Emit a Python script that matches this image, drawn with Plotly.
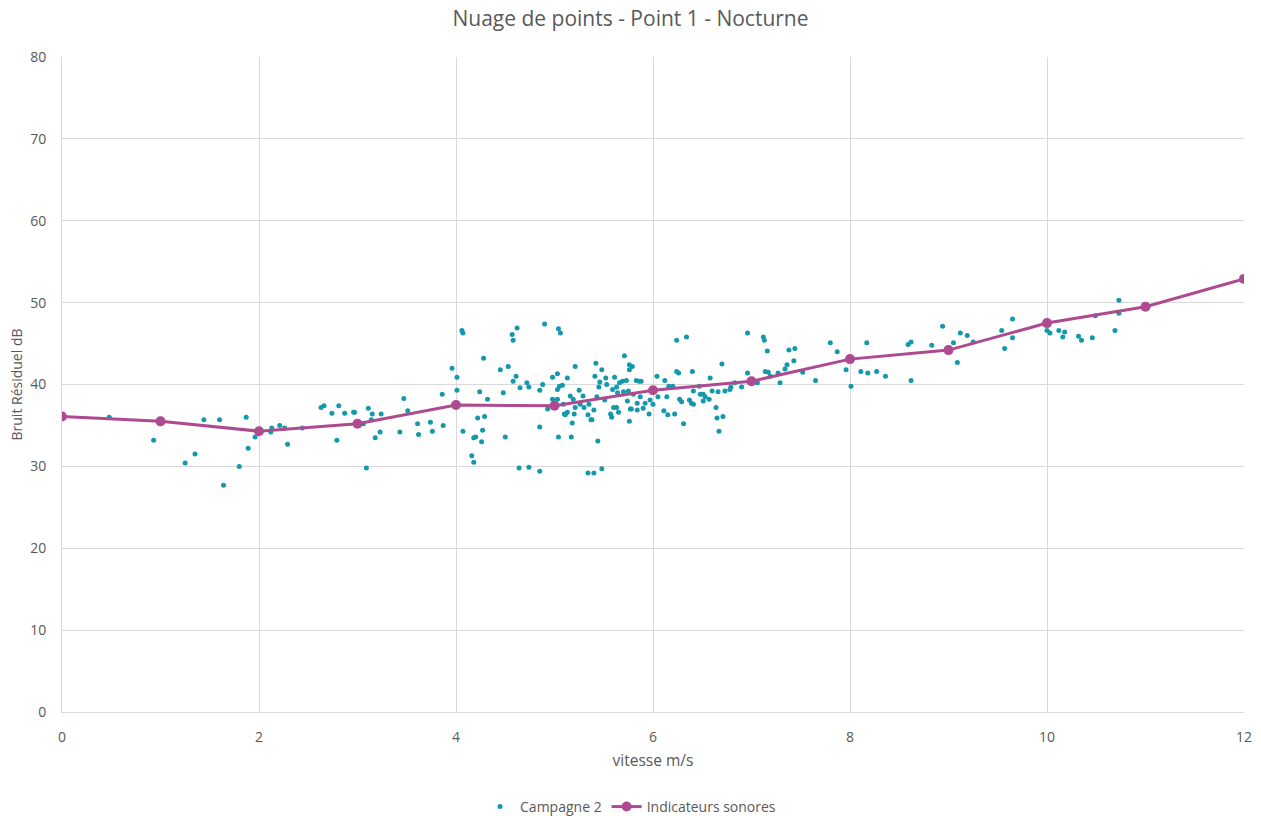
import plotly.graph_objects as go

# Campagne 2 : vitesse du vent (m/s) et bruit résiduel mesuré (dB)
campagne_vitesse = [
    0.48, 0.93, 1.25, 1.35, 1.44, 1.60, 1.87, 1.64, 1.80, 1.89, 1.96,
    2.12, 2.13, 2.21, 2.26, 2.29, 2.44, 2.63, 2.66, 2.74, 2.79, 2.81, 2.87, 2.96, 2.97,
    3.06, 3.09, 3.11, 3.14, 3.15, 3.18, 3.23, 3.24, 3.43, 3.47, 3.51, 3.61, 3.62, 3.74,
    3.76, 3.86, 3.87,
    3.96, 4.01, 4.01, 4.06, 4.07, 4.07, 4.16, 4.18, 4.18, 4.20, 4.22, 4.24, 4.26, 4.27,
    4.28, 4.29, 4.32, 4.45, 4.48, 4.50, 4.53, 4.57, 4.58, 4.58, 4.61, 4.62, 4.64, 4.65,
    4.72, 4.74, 4.74, 4.85, 4.85, 4.88, 4.90,
    5.04, 5.06, 4.85, 4.93, 4.98, 4.98, 5.03, 5.03, 5.05, 5.08, 5.03, 5.09, 5.04, 5.10,
    5.11, 5.13, 5.13, 5.16, 5.17, 5.18, 5.19, 5.20, 5.21, 5.21, 5.25, 5.26, 5.29, 5.30,
    5.34, 5.34, 5.35, 5.37, 5.38, 5.40, 5.40, 5.41, 5.42, 5.43, 5.44, 5.45, 5.46, 5.48,
    5.48, 5.51, 5.52, 5.53, 5.57, 5.58, 5.59, 5.60, 5.61, 5.63, 5.63, 5.64, 5.65, 5.66,
    5.69, 5.70, 5.71, 5.73, 5.74, 5.75, 5.76, 5.76, 5.76, 5.77, 5.78, 5.79, 5.80, 5.83,
    5.84, 5.84, 5.86, 5.87, 5.88, 5.90, 5.92, 5.96, 5.97, 6.04, 6.05,
    6.12, 6.16, 6.20, 6.24, 6.24, 6.26, 6.34, 6.40, 6.00, 6.11, 6.14, 6.15, 6.22, 6.27,
    6.29, 6.31, 6.37, 6.39, 6.41, 6.41, 6.47, 6.48, 6.51, 6.51, 6.53, 6.57, 6.58, 6.60,
    6.64, 6.65, 6.66, 6.67, 6.70, 6.71, 6.73, 6.78, 6.79, 6.83, 6.90, 6.96, 6.96, 7.06,
    7.12, 7.13, 7.14, 7.16, 7.17, 7.27,
    7.19, 7.29, 7.34, 7.36, 7.38, 7.43, 7.44, 7.52, 7.65, 7.80, 7.87, 7.96, 8.01, 8.11,
    8.17, 8.18, 8.27, 8.36, 8.59, 8.62, 8.62, 8.83, 8.94, 9.05, 9.09, 9.12, 9.19, 9.25,
    9.54, 9.57, 9.65, 9.65, 10.00, 10.03, 10.12, 10.16, 10.18, 10.32, 10.35, 10.46,
    10.49, 10.69, 10.73, 10.73,
]
campagne_bruit = [
    36.0, 33.2, 30.4, 31.5, 35.7, 35.7, 36.0, 27.7, 30.0, 32.2, 33.6,
    34.2, 34.7, 35.0, 34.7, 32.7, 34.7, 37.2, 37.4, 36.5, 33.2, 37.4, 36.5, 36.6, 36.6,
    35.2, 29.8, 37.1, 35.7, 36.4, 33.5, 34.2, 36.4, 34.2, 38.3, 36.8, 35.2, 33.9, 35.4,
    34.3, 38.8, 35.0,
    42.0, 40.9, 39.3, 46.6, 46.3, 34.3, 31.3, 30.5, 33.5, 33.6, 35.9, 39.1, 33.0, 34.4,
    43.2, 36.1, 38.2, 41.8, 39.0, 33.6, 42.2, 46.1, 40.4, 45.4, 41.0, 46.9, 29.8, 39.6,
    40.2, 39.7, 29.9, 29.4, 39.3, 40.0, 47.4,
    46.8, 46.3, 34.8, 37.0, 38.2, 40.9, 41.3, 39.4, 39.8, 39.9, 38.2, 37.6, 33.6, 36.4,
    36.3, 36.6, 40.8, 38.6, 33.6, 35.3, 38.2, 36.4, 42.2, 37.2, 39.3, 37.6, 38.6, 37.2,
    29.2, 36.3, 37.6, 35.7, 35.7, 36.9, 29.2, 41.0, 42.6, 38.5, 33.1, 39.7, 40.3, 41.8,
    29.7, 38.1, 40.8, 40.0, 36.4, 36.0, 39.4, 37.2, 40.9, 37.2, 39.7, 39.0, 36.6, 40.2,
    40.4, 39.1, 43.5, 40.5, 38.0, 39.2, 42.4, 35.5, 41.8, 37.0, 37.0, 42.2, 38.8, 40.5,
    36.9, 37.7, 40.4, 38.5, 40.4, 37.1, 37.7, 36.4, 38.1, 41.0, 38.5,
    40.5, 39.8, 39.8, 45.4, 41.6, 41.4, 45.8, 41.6, 37.6, 36.8, 38.5, 36.3, 36.4, 38.2,
    37.9, 35.2, 38.1, 37.7, 37.6, 39.2, 39.8, 38.8, 38.8, 38.0, 38.5, 38.2, 40.8, 39.2,
    37.2, 35.9, 39.1, 34.3, 42.5, 36.1, 39.2, 39.4, 39.7, 40.2, 39.7, 46.3, 41.4, 40.2,
    45.8, 45.4, 41.6, 44.1, 41.5, 41.4,
    41.0, 40.2, 41.9, 42.4, 44.2, 42.9, 44.4, 41.5, 40.5, 45.1, 44.0, 41.8, 39.8, 41.6,
    45.1, 41.4, 41.6, 41.0, 44.9, 45.2, 40.5, 44.8, 47.1, 45.1, 42.7, 46.3, 46.0, 45.2,
    46.6, 44.4, 48.0, 45.7, 46.6, 46.3, 46.6, 45.8, 46.4, 45.9, 45.4, 45.7,
    48.4, 46.6, 50.3, 48.7,
]

# Indicateurs sonores par classe de vitesse
indicateur_vitesse = [0, 1, 2, 3, 4, 5, 6, 7, 8, 9, 10, 11, 12]
indicateur_bruit = [36.1, 35.5, 34.3, 35.2, 37.5, 37.4, 39.3, 40.4, 43.1, 44.2, 47.5, 49.5, 52.9]

x_ticks = [0, 2, 4, 6, 8, 10, 12]
y_ticks = [0, 10, 20, 30, 40, 50, 60, 70, 80]

TEAL = "#1399AB"
MAGENTA = "#AE4A90"
GREY_TEXT = "#595959"
GRID = "#D9D9D9"
FONT = "'Open Sans', sans-serif"

fig = go.Figure()
fig.add_trace(go.Scatter(
    x=campagne_vitesse, y=campagne_bruit, mode="markers", name="Campagne 2",
    marker=dict(color=TEAL, size=5, line=dict(width=0)),
))
fig.add_trace(go.Scatter(
    x=indicateur_vitesse, y=indicateur_bruit, mode="lines+markers",
    name="Indicateurs sonores",
    line=dict(color=MAGENTA, width=3),
    marker=dict(color=MAGENTA, size=10),
))

fig.update_layout(
    width=1261, height=816,
    paper_bgcolor="white", plot_bgcolor="white",
    margin=dict(l=62, r=17, t=57, b=104, autoexpand=False),
    font=dict(family=FONT, color=GREY_TEXT, size=13),
    title=dict(text="Nuage de points - Point 1 - Nocturne", x=0.5, xanchor="center",
               y=0.977, yanchor="middle",
               font=dict(family=FONT, size=21, color=GREY_TEXT)),
    xaxis=dict(
        range=[0, 12], tickvals=x_ticks, ticktext=[str(v) for v in x_ticks],
        showgrid=True, gridcolor=GRID, gridwidth=1, zeroline=False,
        showline=True, linecolor=GRID, linewidth=1,
        ticks="outside", ticklen=12, tickcolor="rgba(0,0,0,0)",
        tickfont=dict(size=14, color=GREY_TEXT),
        title=dict(text="vitesse m/s", standoff=10, font=dict(size=15.5, color=GREY_TEXT)),
    ),
    yaxis=dict(
        range=[0, 80], tickvals=y_ticks, ticktext=[str(v) for v in y_ticks],
        showgrid=True, gridcolor=GRID, gridwidth=1, zeroline=False,
        showline=True, linecolor=GRID, linewidth=1,
        ticks="outside", ticklen=12, tickcolor="rgba(0,0,0,0)",
        tickfont=dict(size=14, color=GREY_TEXT),
        title=dict(text="Bruit Résiduel dB", standoff=4, font=dict(size=14, color=GREY_TEXT)),
    ),
    legend=dict(orientation="h", x=0.481, xanchor="center", y=-0.145, yanchor="middle",
                font=dict(size=14, color=GREY_TEXT)),
    showlegend=True,
)

fig.write_html("out.html")
